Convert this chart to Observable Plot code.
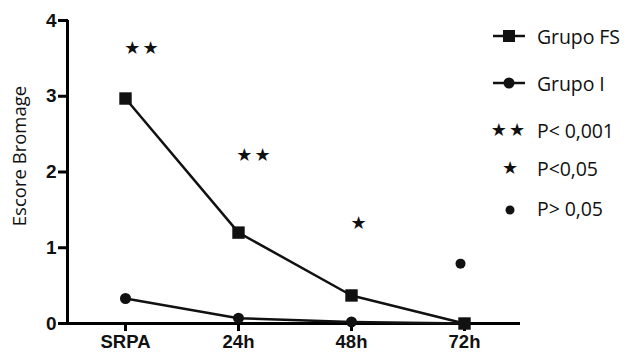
<!DOCTYPE html>
<html>
<head>
<meta charset="utf-8">
<script src="https://cdn.jsdelivr.net/npm/d3@7"></script>
<script src="https://cdn.jsdelivr.net/npm/@observablehq/plot@0.6"></script>
<style>
  html, body { margin: 0; padding: 0; background: #fff; }
  #wrap { position: relative; width: 629px; height: 356px; overflow: hidden; }
  #wrap svg g[aria-label$="tick"] path { stroke-width: 3px !important; stroke: #000 !important; }
  #legend { position: absolute; left: 488px; top: 0; font-family: "Open Sans", sans-serif; font-size: 19.5px; color: #111; letter-spacing: -0.1px; }
  .item { position: absolute; left: 0; display: flex; align-items: center; white-space: nowrap; height: 26px; }
  .item svg { width: 42px; height: 24px; margin-right: 7px; }
</style>
</head>
<body>
<div id="wrap"><div id="legend"></div></div>
<script>
const categories = ["SRPA", "24h", "48h", "72h"];
const grupoFS = [2.97, 1.2, 0.37, 0];
const grupoI = [0.33, 0.07, 0.02, 0];
const sigMarks = ["★★", "★★", "★", "●"];
const sigY = [3.64, 2.22, 1.33, 0.79];
const yTicks = [0, 1, 2, 3, 4];
const yLabel = "Escore Bromage";
const legendLabels = ["Grupo FS", "Grupo I", "P< 0,001", "P<0,05", "P> 0,05"];
const legendSymbols = ["lineSquare", "lineCircle", "★★", "★", "●"];

const fs = categories.map((c, i) => ({cat: c, v: grupoFS[i]}));
const gi = categories.map((c, i) => ({cat: c, v: grupoI[i]}));
const sig = categories.map((c, i) => ({cat: c, v: sigY[i], m: sigMarks[i]}));
const sigStars = sig.filter(d => d.m !== "●");
const sigDots = sig.filter(d => d.m === "●");

const plot = Plot.plot({
  width: 629,
  height: 356,
  marginLeft: 68,
  marginRight: 109,
  marginTop: 20,
  marginBottom: 33,
  style: {fontFamily: "'Liberation Sans', Arial, sans-serif", background: "transparent", color: "#111"},
  x: {type: "point", domain: categories, padding: 0.5},
  y: {domain: [0, 4]},
  marks: [
    Plot.axisX({tickSize: 8, tickPadding: 3, fontSize: 18.5, fontWeight: "bold", strokeWidth: 3, label: null}),
    Plot.axisY({ticks: yTicks, tickSize: 10, tickPadding: 2, fontSize: 19, fontWeight: "bold", strokeWidth: 3, label: null, tickFormat: d => String(d)}),
    Plot.ruleY([0], {strokeWidth: 3, stroke: "#000"}),
    Plot.line(gi, {x: "cat", y: "v", stroke: "#111", strokeWidth: 2.5}),
    Plot.line(fs, {x: "cat", y: "v", stroke: "#111", strokeWidth: 2.5}),
    Plot.dot(gi, {x: "cat", y: "v", r: 5.5, fill: "#111", symbol: "circle"}),
    Plot.dot(fs, {x: "cat", y: "v", r: 7, fill: "#111", symbol: "square"}),
    Plot.text(sigStars, {x: "cat", y: "v", text: "m", fontSize: 18, fill: "#111", fontFamily: "DejaVu Sans"}),
    Plot.dot(sigDots, {x: "cat", y: "v", r: 5, fill: "#111", dx: -4})
  ]
});
// offset the significance labels slightly to the right of each category, as in the reference
plot.querySelectorAll("g[aria-label='text'] text").forEach((t, i) => {
  const off = [17, 16, 8][i];
  t.setAttribute("transform", (t.getAttribute("transform") || "") + ` translate(${off},0)`);
  t.setAttribute("letter-spacing", "2");
});

// y axis line from the scales' ranges
const xs = plot.scale("x"), ys = plot.scale("y");
d3.select(plot).append("line")
  .attr("x1", xs.range[0] - 0.5).attr("x2", xs.range[0] - 0.5)
  .attr("y1", ys.range[0] + 1.5).attr("y2", ys.range[1])
  .attr("stroke", "#000").attr("stroke-width", 3);

document.getElementById("wrap").prepend(plot);

// y-axis title
const svgns = "http://www.w3.org/2000/svg";
const title = document.createElementNS(svgns, "text");
title.textContent = yLabel;
title.setAttribute("transform", "translate(26,156) rotate(-90)");
title.setAttribute("text-anchor", "middle");
title.setAttribute("font-family", "Open Sans, sans-serif");
title.setAttribute("font-size", "18.5");
title.setAttribute("fill", "#111");
plot.appendChild(title);

// legend
const legend = document.getElementById("legend");
const rowTops = [23, 70, 117, 155, 195];
legendLabels.forEach((lab, i) => {
  const item = document.createElement("div");
  item.className = "item";
  item.style.top = rowTops[i] + "px";
  const s = legendSymbols[i];
  let sym = "";
  if (s === "lineSquare") sym = `<line x1="5" x2="37" y1="12" y2="12" stroke="#111" stroke-width="2.5"/><rect x="15" y="6" width="12" height="12" fill="#111"/>`;
  else if (s === "lineCircle") sym = `<line x1="5" x2="37" y1="12" y2="12" stroke="#111" stroke-width="2.5"/><circle cx="21" cy="12" r="5.5" fill="#111"/>`;
  else if (s === "●") sym = `<circle cx="22" cy="14" r="4.5" fill="#111"/>`;
  else sym = `<text x="${s.length > 1 ? 21 : 22}" y="18" text-anchor="middle" font-family="DejaVu Sans" font-size="18" letter-spacing="${s.length > 1 ? 2 : 0}" fill="#111">${s}</text>`;
  item.innerHTML = `<svg viewBox="0 0 42 24">${sym}</svg><span>${lab}</span>`;
  legend.appendChild(item);
});
</script>
</body>
</html>
